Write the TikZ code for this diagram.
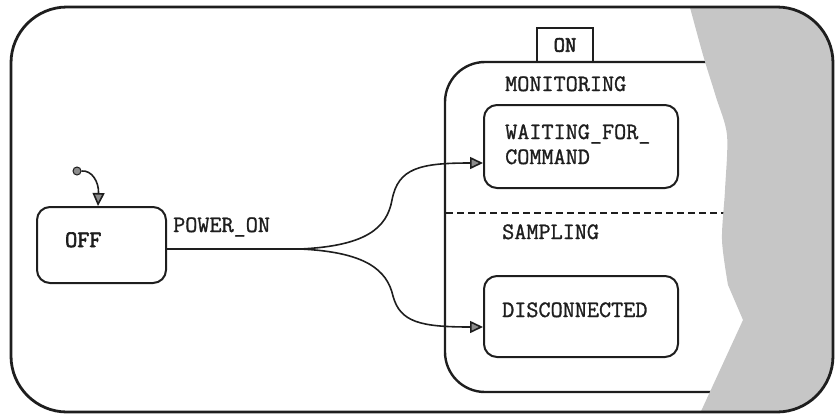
\documentclass[tikz,border=0pt]{standalone}
\usepackage{fontspec}
\newfontfamily\typew{Latin Modern Mono}[FakeBold=1.2]
\newfontfamily\typewbold{Latin Modern Mono}[FakeBold=2.6]
\usetikzlibrary{arrows.meta}
\definecolor{ink}{HTML}{1E1E1E}
\definecolor{tornfill}{HTML}{C6C6C6}
\definecolor{tipfill}{HTML}{8C8C8C}

\begin{document}
\begin{tikzpicture}[x=1pt,y=-1pt,
  statebox/.style={draw=ink, line width=2pt, rounded corners=13pt, inner sep=0pt},
  lbl/.style={font=\typew\fontsize{23.5}{27}\selectfont, text=ink, inner sep=0pt, anchor=base west},
  wire/.style={draw=ink, line width=1.6pt},
  trans/.style={wire, -{Triangle[length=13pt,width=12pt,fill=tipfill]}},
]
\useasboundingbox (0,0) rectangle (838,418);

% composite state ON: open on the right, its edge runs under the torn area
\draw[ink, line width=2.4pt, rounded corners=40pt]
  (725,62) -- (445,62) -- (445,392) -- (725,392);
\draw[ink, line width=1.6pt, dash pattern=on 7pt off 4pt] (446,213) -- (735,213);
\node[draw=ink, line width=1.8pt, minimum width=56pt, minimum height=34pt,
      inner sep=0pt, font=\typewbold\fontsize{22}{25}\selectfont, text=ink]
      (ontab) at (565,45) {ON};

% region labels
\node[lbl] (monlbl) at (505,91) {MONITORING};
\node[lbl] (samlbl) at (502,239) {SAMPLING};

% substates
\node[statebox, minimum width=129pt, minimum height=76pt] (off) at (101.5,245) {};
\node[statebox, minimum width=194pt, minimum height=83pt] (wait) at (581,146.5) {};
\node[statebox, minimum width=194pt, minimum height=81pt] (disc) at (581,316.5) {};

\node[lbl, font=\typewbold\fontsize{23.5}{27}\selectfont] (offtxt) at (65,247) {OFF};
\node[lbl] (waittxt1) at (505,139) {WAITING\_FOR\_};
\node[lbl] (waittxt2) at (505,164) {COMMAND};
\node[lbl] (disctxt) at (502,317) {DISCONNECTED};
\node[lbl] (evt) at (173,232) {POWER\_ON};

% initial pseudostate
\node[circle, fill=tipfill, draw=ink, line width=1pt, minimum size=8pt, inner sep=0pt]
  (init) at (77,171) {};
\draw[trans] (init.east) .. controls (92,170) and (99,182) .. ([xshift=-3.5pt]off.north);

% POWER_ON transition, forking into both regions
\coordinate (split) at (300,249);
\draw[wire] (off.east |- split) -- (split);
\draw[trans] (split) .. controls (366,246) and (387,228) .. (392,200)
  .. controls (398,168) and (420,163) .. ([yshift=-16.5pt]wait.west);
\draw[trans] (split) .. controls (366,252) and (387,270) .. (393,296)
  .. controls (400,322) and (420,327) .. ([yshift=-10.5pt]disc.west);

% torn-off right part of the outer state
\begin{scope}
  \clip[rounded corners=56pt] (11,7) rectangle (833,412);
  \fill[tornfill] plot[smooth, tension=0.5] coordinates
    {(688,0) (703,55) (716,97) (727,135) (725,190) (722,240) (728,285)}
    -- (743,320) -- (697,420) -- (845,420) -- (845,0) -- cycle;
\end{scope}

% outer state
\draw[ink, line width=2.8pt, rounded corners=56pt] (11,7) rectangle (833,412);
\end{tikzpicture}
\end{document}
